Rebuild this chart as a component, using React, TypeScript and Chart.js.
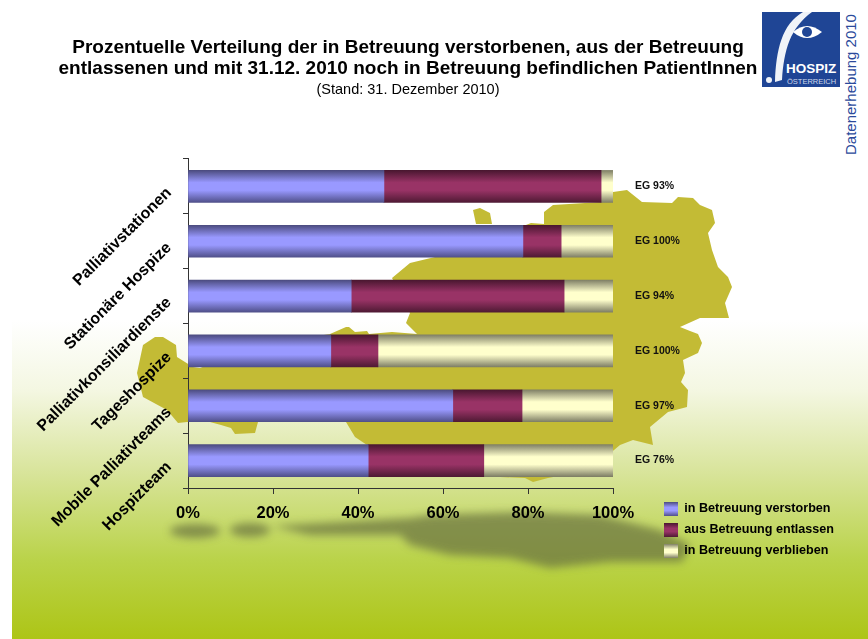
import React, { useEffect, useRef } from "react";
import { Chart, registerables } from "chart.js";

Chart.register(...registerables);

const categories = [
  "Palliativstationen",
  "Stationäre Hospize",
  "Palliativkonsiliardienste",
  "Tageshospize",
  "Mobile Palliativteams",
  "Hospizteam",
];
const egLabels = ["EG 93%", "EG 100%", "EG 94%", "EG 100%", "EG 97%", "EG 76%"];
const verstorben = [46.1, 78.8, 38.4, 33.6, 62.3, 42.4];
const entlassen = [51.1, 9.0, 50.1, 11.1, 16.3, 27.2];
const verblieben = [2.8, 12.2, 11.5, 55.3, 21.4, 30.4];
const titleLines = [
  "Prozentuelle Verteilung der in Betreuung verstorbenen, aus der Betreuung",
  "entlassenen und mit 31.12. 2010 noch in Betreuung befindlichen PatientInnen",
];
const subtitleLine = "(Stand: 31. Dezember 2010)";

const FONT = "'Liberation Sans', Arial, sans-serif";
const BLUE = ["#4c4c80", "#9999ff", "#9999ff", "#50508a"];
const MAROON = ["#4a1730", "#993366", "#993366", "#4f1a34"];
const CREAM = ["#808066", "#ffffcc", "#ffffcc", "#7f7f66"];
const BAR_PX = 32;

const MAP_PATH =
  "M143,345 L155,337 163,337 176,345 177,357 193,367 200,368 260,345 330,334 346,327 349,327 355,332 367,331 369,334 392,332 417,334 406,323 410,313 392,278 410,263 435,257 500,235 531,223 544,224 544,212 553,205 601,202 613,192 627,190 642,202 672,203 678,197 693,198 700,205 712,210 715,223 708,233 712,250 718,267 728,277 732,287 725,303 729,318 700,318 680,327 690,331 698,334 702,343 698,353 683,360 685,373 681,382 688,390 687,407 668,412 650,427 653,445 633,440 620,445 590,470 548,478 533,482 525,478 500,477 420,470 367,445 355,437 346,422 258,422 255,433 235,434 231,428 221,425 210,422 187,422 178,423 167,410 143,397 137,373 Z M473,210 L480,208 490,213 492,224 476,224 Z";

function gradient(chart: any, y: number, stops: string[], half = BAR_PX / 2) {
  const g = chart.ctx.createLinearGradient(0, y - half, 0, y + half);
  g.addColorStop(0, stops[0]);
  g.addColorStop(0.38, stops[1]);
  g.addColorStop(0.62, stops[2]);
  g.addColorStop(1, stops[3]);
  return g;
}

function barFill(stops: string[]) {
  return (ctx: any) => {
    const scale = ctx.chart.scales.y;
    if (ctx.type !== "data" || !scale) return stops[1];
    const y = scale.getPixelForValue(ctx.dataIndex);
    if (!Number.isFinite(y)) return stops[1];
    return gradient(ctx.chart, y, stops);
  };
}

const LEGEND_TOP = 502;
const legendPlacer = {
  id: "legendPlacer",
  afterLayout(chart: any) {
    const l = chart.legend;
    const pad = l.options.labels.padding;
    l.left = 664 - pad;
    l.right = 868;
    l.top = LEGEND_TOP - pad;
    l.bottom = 639;
  },
  beforeDraw(chart: any) {
    const l = chart.legend;
    const pad = l.options.labels.padding;
    const box = l.options.labels.boxHeight;
    const all = [BLUE, MAROON, CREAM];
    (l.legendItems || []).forEach((item: any, i: number) => {
      item.fillStyle = gradient(chart, LEGEND_TOP + i * (box + pad) + box / 2, all[i], box / 2);
    });
  },
};

export default function App() {
  const ref = useRef<HTMLCanvasElement | null>(null);
  useEffect(() => {
    const chart = new Chart(ref.current as HTMLCanvasElement, {
      type: "bar",
      data: {
        labels: categories,
        datasets: [
          { label: "in Betreuung verstorben", data: verstorben, backgroundColor: barFill(BLUE) },
          { label: "aus Betreuung entlassen", data: entlassen, backgroundColor: barFill(MAROON) },
          { label: "in Betreuung verblieben", data: verblieben, backgroundColor: barFill(CREAM) },
        ],
      } as any,
      options: {
        indexAxis: "y",
        animation: false,
        responsive: false,
        layout: { padding: { right: 52 } },
        datasets: { bar: { barThickness: BAR_PX, borderWidth: 0 } },
        plugins: {
          title: {
            display: true,
            text: titleLines,
            color: "#000",
            font: { family: FONT, size: 19, weight: "bold", lineHeight: 1.105 },
            padding: { top: 37, bottom: 2 },
          },
          subtitle: {
            display: true,
            text: subtitleLine,
            color: "#000",
            font: { family: FONT, size: 14.5, weight: "normal", lineHeight: 1 },
            padding: { top: 2, bottom: 61.5 },
          },
          legend: {
            position: "right",
            align: "start",
            labels: {
              boxWidth: 14,
              boxHeight: 14,
              padding: 7,
              color: "#000",
              font: { family: FONT, size: 12.6, weight: "bold" },
            },
          },
          tooltip: { enabled: false },
        },
        scales: {
          x: {
            type: "linear",
            stacked: true,
            min: 0,
            max: 100,
            ticks: {
              stepSize: 20,
              color: "#000",
              padding: 10,
              maxRotation: 0,
              font: { family: FONT, size: 16.5, weight: "bold" },
              callback: (v: any) => v + "%",
            },
            grid: { drawOnChartArea: false, tickLength: 6, color: "#333" },
            border: { color: "#333" },
            afterFit: (s: any) => {
              s.height = 151;
            },
          },
          y: {
            type: "category",
            stacked: true,
            ticks: {
              minRotation: 45,
              maxRotation: 45,
              color: "#000",
              padding: 14,
              labelOffset: 4,
              autoSkip: false,
              font: { family: FONT, size: 16, weight: "bold" },
            },
            grid: { offset: true, drawOnChartArea: false, tickLength: 5, color: "#333" },
            border: { color: "#333" },
            afterFit: (s: any) => {
              s.width = 188;
            },
          },
          y2: {
            type: "category",
            axis: "y",
            position: "right",
            labels: egLabels,
            offset: true,
            ticks: {
              color: "#111",
              padding: 22,
              autoSkip: false,
              font: { family: FONT, size: 10.5, weight: "bold" },
            },
            grid: { display: false, drawTicks: false },
            border: { display: false },
            afterFit: (s: any) => {
              s.width = 203 - (s.chart.legend ? s.chart.legend.width : 0);
            },
          },
        },
      } as any,
      plugins: [legendPlacer],
    } as any);
    return () => chart.destroy();
  }, []);

  return (
    <div style={{ position: "absolute", left: 0, top: 0, width: 868, height: 639, overflow: "hidden", background: "#fff" }}>
      <svg width={868} height={639} style={{ position: "absolute", left: 0, top: 0 }}>
        <defs>
          <linearGradient id="bg" x1="0" y1="0" x2="0" y2="1">
            <stop offset="0" stopColor="#ffffff" />
            <stop offset="0.22" stopColor="#f4f7e2" />
            <stop offset="0.48" stopColor="#d8e49a" />
            <stop offset="0.75" stopColor="#bad34a" />
            <stop offset="1" stopColor="#adc516" />
          </linearGradient>
          <filter id="soft" x="-20%" y="-60%" width="140%" height="220%">
            <feGaussianBlur stdDeviation="4" />
          </filter>
        </defs>
        <rect x={12} y={320} width={856} height={319} fill="url(#bg)" />
        <g fill="#6b7340" opacity={0.72} filter="url(#soft)">
          <ellipse cx={195} cy={531} rx={25} ry={7} />
          <ellipse cx={250} cy={530} rx={20} ry={7} />
          <path d="M272,526 L410,518 430,515 520,512 600,515 660,530 690,545 682,562 610,562 550,568 510,558 450,555 410,545 400,535 310,535 Z" />
        </g>
        <path d={MAP_PATH} fill="#c3bb35" />
        <rect x={762} y={12} width={78} height={75} fill="#1f4595" />
        <path d="M803,12 C782,24 776,50 775,82 L782,80 C784,50 790,28 812,12 Z" fill="#f0f3f8" />
        <circle cx={769} cy={80} r={3} fill="#f0f3f8" />
        <path d="M793,32 Q807,20 822,32 Q807,44 793,32 Z" fill="#fff" />
        <circle cx={807} cy={32} r={5} fill="#1f4595" />
        <text x={786} y={73} fill="#fff" fontFamily={FONT} fontWeight="bold" fontSize={13.5}>HOSPIZ</text>
        <text x={787} y={84} fill="#cfd8ea" fontFamily={FONT} fontSize={7.5}>ÖSTERREICH</text>
        <text transform="translate(856,155) rotate(-90)" fill="#2b4a9b" fontFamily={FONT} fontSize={15}>Datenerhebung 2010</text>
      </svg>
      <canvas ref={ref} width={868} height={639} style={{ position: "absolute", left: 0, top: 0, display: "block" }} />
    </div>
  );
}
